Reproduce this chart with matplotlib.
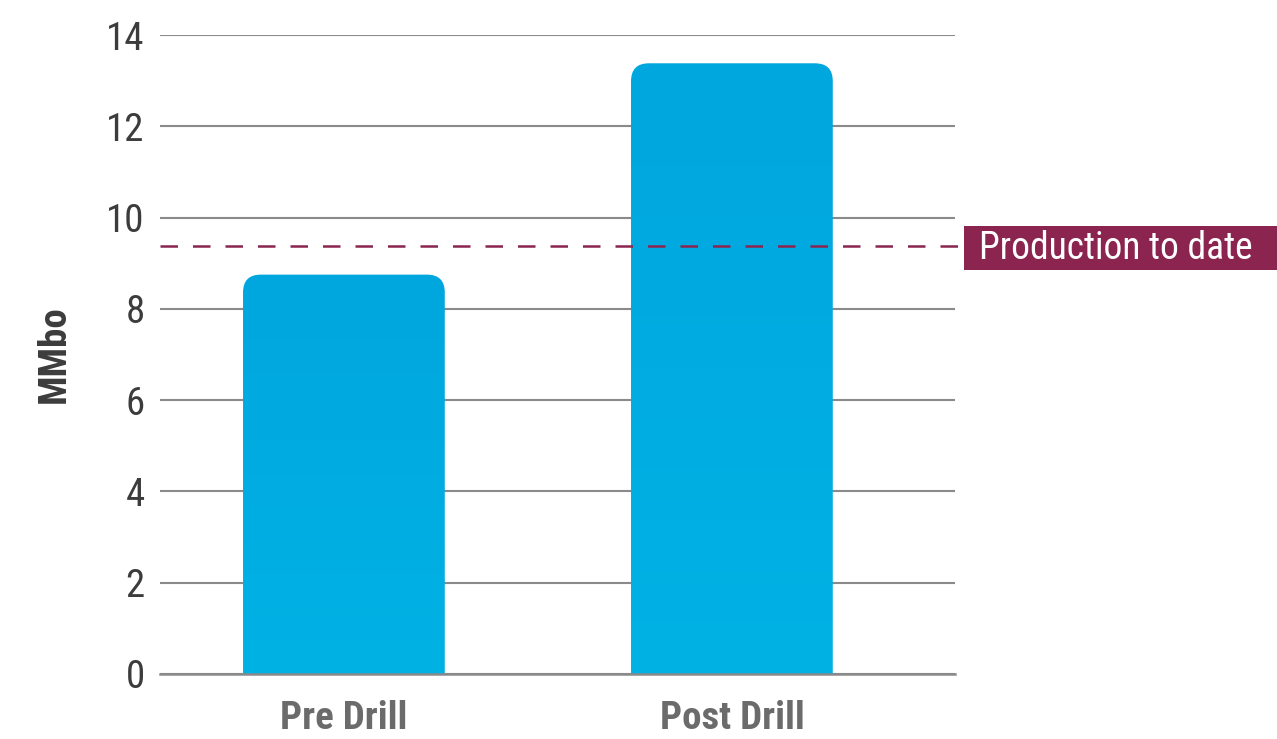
import matplotlib
matplotlib.use("Agg")
import matplotlib.pyplot as plt
import numpy as np
from matplotlib.patches import FancyBboxPatch, Rectangle
from matplotlib.colors import LinearSegmentedColormap

categories = ["Pre Drill", "Post Drill"]
values = [8.75, 13.38]
production_to_date = 9.38
production_label = "Production to date"
yticks = [0, 2, 4, 6, 8, 10, 12, 14]
ylabel = "MMbo"

plt.rcParams["font.family"] = ["Roboto Condensed", "DejaVu Sans"]

fig = plt.figure(figsize=(12.77, 7.39), dpi=100)
ax = fig.add_axes([160/1277, 1-674/739, (955-160)/1277, (674-35)/739])

x = np.arange(len(categories))
width = 0.52
bars = ax.bar(x, values, width=width, color="none", edgecolor="none")
ax.set_xlim(-0.474, 1.575)
ax.set_ylim(0, 14)

rx = 0.046
ry = 0.39
grad = np.linspace(0, 1, 256).reshape(-1, 1)
cmap = LinearSegmentedColormap.from_list("g", ["#00B2E5", "#00A6DE"])
for b in bars:
    x0, w, h = b.get_x(), b.get_width(), b.get_height()
    p = FancyBboxPatch((x0, -2), w, h + 2,
                       boxstyle=f"round,pad=0,rounding_size={rx}",
                       mutation_aspect=ry / rx,
                       facecolor="none", edgecolor="none", transform=ax.transData)
    ax.add_patch(p)
    im = ax.imshow(grad, extent=(x0, x0 + w, 0, h), origin="lower",
                   cmap=cmap, aspect="auto", zorder=3)
    im.set_clip_path(p)

ax.set_aspect("auto")
ax.set_xlim(-0.474, 1.575)
ax.set_ylim(0, 14)

ax.set_yticks(yticks)
ax.set_yticklabels([str(t) for t in yticks], fontsize=28, color="#3C3C3C")
ax.yaxis.grid(True, color="#8A8A8A", linewidth=1.5)
ax.set_axisbelow(True)
ax.tick_params(axis="y", length=0, pad=11)
ax.tick_params(axis="x", length=0, pad=19)
ax.set_xticks(x)
ax.set_xticklabels(categories, fontsize=28, fontweight="bold", color="#6B6B6B")
for s in ["top", "right", "left"]:
    ax.spines[s].set_visible(False)
ax.spines["bottom"].set_color("#8A8A8A")
ax.spines["bottom"].set_linewidth(1.8)
ax.spines["bottom"].set_zorder(4)

ax.set_ylabel(ylabel, fontsize=28, fontweight="bold", color="#3C3C3C")
ax.yaxis.set_label_coords(-0.11, 0.5)

ax.axhline(production_to_date, xmin=0, xmax=1.006, color="#8B2550",
           linewidth=1.8, dashes=(7, 6), zorder=5, clip_on=False)

rect = Rectangle((964/1277, 1-270/739), (1277-964)/1277, 44/739,
                 transform=fig.transFigure, facecolor="#8B2550",
                 edgecolor="none", zorder=5, clip_on=False)
ax.add_artist(rect)
ax.text(979/1277, 1-248/739, production_label, transform=fig.transFigure,
        fontsize=27, color="white", va="center", ha="left", zorder=6)

fig.savefig("out.png", dpi=100)
